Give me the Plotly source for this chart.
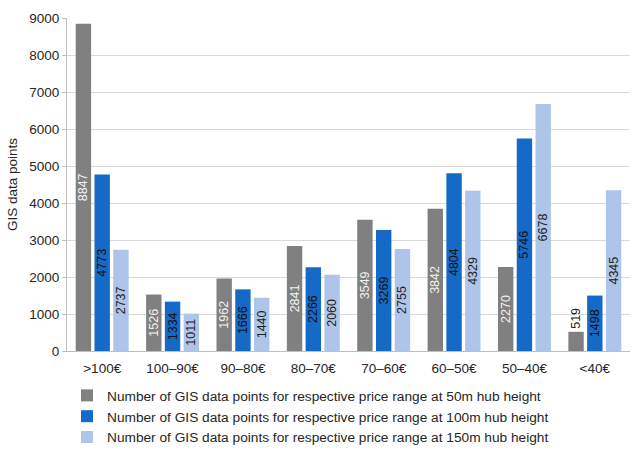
import plotly.graph_objects as go

# Price ranges (EUR) and counts of GIS data points per hub height
categories = [">100€", "100–90€", "90–80€", "80–70€", "70–60€", "60–50€", "50–40€", "<40€"]
hub_50m = [8847, 1526, 1962, 2841, 3549, 3842, 2270, 519]
hub_100m = [4773, 1334, 1666, 2266, 3269, 4804, 5746, 1498]
hub_150m = [2737, 1011, 1440, 2060, 2755, 4329, 6678, 4345]

series = [
    ("Number of GIS data points for respective price range at 50m hub height", hub_50m, "#808080", "#f2f2f2"),
    ("Number of GIS data points for respective price range at 100m hub height", hub_100m, "#1569C7", "#111111"),
    ("Number of GIS data points for respective price range at 150m hub height", hub_150m, "#AEC4E8", "#222222"),
]

FONT = "Liberation Sans, Arial, sans-serif"

fig = go.Figure()
for name, values, color, txtcolor in series:
    # short bars cannot hold the rotated label, so it goes above them
    positions = ["outside" if v < 800 else "inside" for v in values]
    fig.add_trace(go.Bar(
        x=categories,
        y=values,
        name=name,
        marker=dict(color=color, line=dict(width=0)),
        text=[str(v) for v in values],
        textposition=positions,
        insidetextanchor="middle",
        textangle=-90,
        insidetextfont=dict(family=FONT, size=12.5, color=txtcolor),
        outsidetextfont=dict(family=FONT, size=12.5, color="#222222"),
        cliponaxis=False,
    ))

fig.update_layout(
    width=636,
    height=450,
    margin=dict(l=67, r=6, t=18, b=99, autoexpand=False),
    paper_bgcolor="white",
    plot_bgcolor="white",
    barmode="group",
    bargap=0.2,
    bargroupgap=0.18,
    uniformtext=dict(minsize=12, mode="show"),
    font=dict(family=FONT, size=13.5, color="#404040"),
    showlegend=True,
    legend=dict(
        orientation="v",
        x=0.0,
        xanchor="left",
        y=-0.087,
        yanchor="top",
        font=dict(family=FONT, size=13.7, color="#262626"),
        itemwidth=30,
        tracegroupgap=0,
        bgcolor="rgba(0,0,0,0)",
    ),
    yaxis=dict(
        range=[0, 9000],
        dtick=1000,
        showgrid=True,
        gridcolor="#d9d9d9",
        gridwidth=1,
        zeroline=False,
        showline=True,
        linecolor="#bfbfbf",
        linewidth=1,
        ticks="outside",
        ticklen=4,
        tickcolor="#bfbfbf",
        tickfont=dict(family=FONT, size=13.5, color="#262626"),
        title=dict(text="GIS data points", font=dict(family=FONT, size=13.5, color="#262626"), standoff=8),
    ),
    xaxis=dict(
        showline=True,
        linecolor="#bfbfbf",
        linewidth=1,
        ticks="",
        ticklabelstandoff=5,
        tickfont=dict(family=FONT, size=13.5, color="#262626"),
    ),
)

fig.write_html("out.html")
